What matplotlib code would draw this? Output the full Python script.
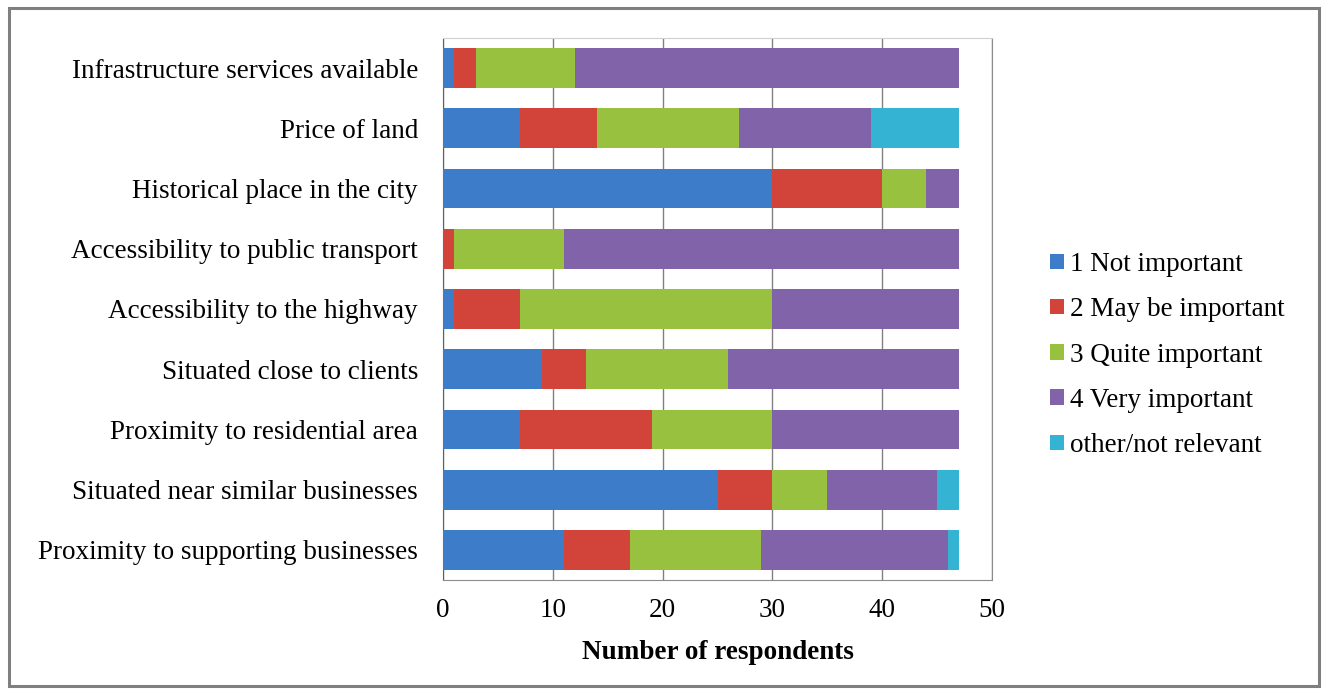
import matplotlib.pyplot as plt
import numpy as np
from matplotlib.patches import Rectangle

plt.rcParams['font.family'] = ['Liberation Serif', 'DejaVu Serif']

# factors, listed bottom to top
factors = ['Proximity to supporting businesses',
           'Situated near similar businesses',
           'Proximity to residential area',
           'Situated close to clients',
           'Accessibility to the highway',
           'Accessibility to public transport',
           'Historical place in the city',
           'Price of land',
           'Infrastructure services available']

not_important = [11, 25, 7, 9, 1, 0, 30, 7, 1]
may_be_important = [6, 5, 12, 4, 6, 1, 10, 7, 2]
quite_important = [12, 5, 11, 13, 23, 10, 4, 13, 9]
very_important = [17, 10, 17, 21, 17, 36, 3, 12, 35]
not_relevant = [1, 2, 0, 0, 0, 0, 0, 8, 0]

series = ['1 Not important', '2 May be important', '3 Quite important',
          '4 Very important', 'other/not relevant']
colors = ['#3d7cc9', '#d2433a', '#97c13e', '#8063a8', '#35b3d3']

fs = 19.5

fig = plt.figure(figsize=(13.26, 6.93), dpi=100)
fig.patches.append(Rectangle((0.007, 0.01), 0.988, 0.978, transform=fig.transFigure,
                             fill=False, edgecolor='#7f7f7f', linewidth=2.2))

ax = fig.add_axes([443 / 1326, 113 / 693, 549 / 1326, 542 / 693])
y = np.arange(len(factors))
left = np.zeros(len(factors))
for vals, name, c in zip([not_important, may_be_important, quite_important,
                          very_important, not_relevant], series, colors):
    ax.barh(y, vals, left=left, height=0.66, color=c, label=name, zorder=3)
    left += np.array(vals)

ax.set_xlim(0, 50)
ax.set_ylim(-0.5, len(factors) - 0.5)
ax.set_xticks(range(0, 51, 10))
ax.set_yticks(y)
ax.set_yticklabels(factors, fontsize=fs)
ax.tick_params(axis='x', labelsize=fs, length=0, pad=13)
ax.tick_params(axis='y', length=0, pad=18)
ax.grid(axis='x', color='#808080', linewidth=1, zorder=0)
ax.spines['top'].set_color('#d0d0d0')
for s in ['right', 'bottom']:
    ax.spines[s].set_color('#8c8c8c')
ax.spines['left'].set_color('#606060')
ax.set_xlabel('Number of respondents', fontsize=fs, fontweight='bold', labelpad=12)

ax.legend(loc='center left', bbox_to_anchor=(1050 / 1326, 1 - 355 / 693),
          bbox_transform=fig.transFigure, frameon=False, borderpad=0, borderaxespad=0,
          fontsize=fs, handlelength=0.5, handleheight=0.5, handletextpad=0.25,
          labelspacing=0.75)

fig.savefig('out.png', dpi=100)
